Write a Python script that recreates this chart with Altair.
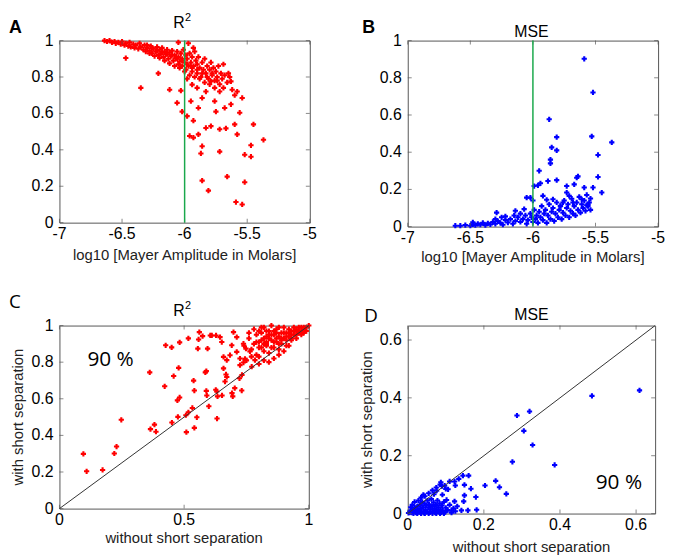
import altair as alt
import pandas as pd

# ---------------- Panel A : R^2 vs log10 Mayer amplitude (red) ----------------
a_x = [-6.64, -6.62, -6.60, -6.58, -6.56, -6.55, -6.53, -6.51, -6.50, -6.48,
       -6.47, -6.45, -6.44, -6.43, -6.41, -6.40, -6.39, -6.37, -6.36, -6.35,
       -6.33, -6.32, -6.31, -6.30, -6.28, -6.27, -6.26, -6.25, -6.23, -6.22,
       -6.21, -6.20, -6.19, -6.18, -6.17, -6.16, -6.15, -6.14, -6.13, -6.12,
       -6.11, -6.10, -6.09, -6.08, -6.07, -6.06, -6.05, -6.05, -6.04, -6.03,
       -6.02, -6.02, -6.01, -6.00, -5.99, -5.99, -5.98, -5.97, -5.96, -5.95,
       -5.94, -5.94, -5.93, -5.92, -5.91, -5.90, -5.90, -5.89, -5.88, -5.87,
       -5.86, -5.85, -5.84, -5.83, -5.82, -5.81, -5.80, -5.79, -5.78, -5.77,
       -5.76, -5.75, -5.74, -5.73, -5.72, -5.71, -5.70, -5.69, -5.68, -5.66,
       -5.64, -5.62, -5.60, -6.05, -5.97, -5.93,
       -6.30, -6.26, -6.22, -6.18, -6.14, -6.10, -6.06, -6.02, -5.98, -5.94,
       -5.90, -5.86, -5.82, -5.78, -5.74, -6.28, -6.24, -6.20, -6.16, -6.12,
       -6.08, -6.04, -6.00, -5.96, -5.92, -5.88, -5.84, -5.80, -5.76, -5.72,
       -6.47, -6.35, -6.21, -6.12, -6.06, -6.03, -6.02, -5.98, -5.95, -5.93,
       -5.96, -5.93, -5.89, -5.86, -5.87, -5.86, -5.81, -5.83, -5.79, -5.72,
       -5.72, -5.67, -5.66, -5.60, -5.58, -5.56, -5.52, -5.52, -5.47, -5.47,
       -5.45, -5.37, -5.59, -5.54, -5.54, -5.58, -5.63, -5.65, -5.69, -5.76,
       -5.75, -5.68, -5.63, -5.79, -5.83, -5.86, -5.89, -5.90, -5.94, -5.98]
a_y = [1.00, 0.995, 1.00, 0.99, 0.995, 0.985, 0.99, 0.98, 0.995, 0.975,
       0.985, 0.97, 0.99, 0.965, 0.98, 0.96, 0.975, 0.955, 0.985, 0.965,
       0.95, 0.975, 0.94, 0.96, 0.945, 0.97, 0.93, 0.955, 0.94, 0.965,
       0.92, 0.95, 0.93, 0.96, 0.91, 0.94, 0.925, 0.95, 0.90, 0.935,
       0.915, 0.945, 0.89, 0.92, 0.905, 0.94, 0.87, 0.91, 0.885, 0.93,
       0.86, 0.90, 0.95, 0.88, 0.92, 0.84, 0.90, 0.86, 0.93, 0.88,
       0.83, 0.91, 0.86, 0.94, 0.89, 0.82, 0.87, 0.91, 0.85, 0.80,
       0.88, 0.84, 0.90, 0.82, 0.86, 0.79, 0.84, 0.88, 0.81, 0.85,
       0.78, 0.83, 0.80, 0.86, 0.76, 0.82, 0.79, 0.74, 0.81, 0.77,
       0.80, 0.73, 0.70, 0.99, 0.985, 0.96,
       0.975, 0.96, 0.945, 0.935, 0.925, 0.92, 0.90, 0.89, 0.87, 0.85,
       0.84, 0.82, 0.80, 0.82, 0.78, 0.93, 0.915, 0.905, 0.89, 0.875,
       0.86, 0.85, 0.83, 0.81, 0.80, 0.79, 0.77, 0.76, 0.74, 0.72,
       0.904, 0.74, 0.82, 0.73, 0.658, 0.725, 0.61, 0.585, 0.667, 0.56,
       0.476, 0.467, 0.485, 0.42, 0.38, 0.231, 0.176, 0.52, 0.53, 0.513,
       0.39, 0.518, 0.253, 0.54, 0.485, 0.604, 0.222, 0.373, 0.362, 0.425,
       0.54, 0.455, 0.113, 0.10, 0.685, 0.72, 0.776, 0.82, 0.87, 0.667,
       0.61, 0.63, 0.65, 0.776, 0.72, 0.685, 0.63, 0.74, 0.758, 0.79]

# ---------------- Panel B : MSE vs log10 Mayer amplitude (blue) ----------------
b_x = [-6.62, -6.58, -6.54, -6.50, -6.48, -6.46, -6.44, -6.42, -6.40, -6.38,
       -6.36, -6.34, -6.32, -6.30, -6.28, -6.26, -6.24, -6.22, -6.20, -6.18,
       -6.16, -6.14, -6.12, -6.10, -6.08, -6.06, -6.05, -6.04, -6.02, -6.01,
       -6.00, -5.99, -5.98, -5.97, -5.96, -5.95, -5.94, -5.93, -5.92, -5.91,
       -5.90, -5.89, -5.88, -5.87, -5.86, -5.85, -5.84, -5.83, -5.82, -5.81,
       -5.80, -5.79, -5.78, -5.77, -5.76, -5.75, -5.74, -5.73, -5.72, -5.71,
       -5.70, -5.69, -5.68, -5.67, -5.66, -5.65, -5.64, -5.63, -5.62, -5.61,
       -5.60, -5.59, -5.58, -5.57, -5.56, -5.55, -5.54, -6.30, -6.25, -6.15,
       -6.10,
       -5.59, -5.52, -5.53, -5.37, -5.48, -5.48, -5.45, -5.87, -5.81, -5.85,
       -5.81, -5.86, -5.86, -5.95, -5.99, -5.96, -5.94, -5.88, -5.81, -5.73,
       -5.65, -5.64, -5.67, -5.59, -5.54, -5.56, -5.52, -6.05, -6.02, -6.00,
       -5.92, -5.89, -5.84, -5.73, -5.71, -5.76, -5.78, -5.68, -5.61, -5.57,
       -6.29, -6.22, -6.14, -6.07, -6.48]
b_y = [0.005, 0.005, 0.008, 0.005, 0.012, 0.008, 0.015, 0.01, 0.02, 0.008,
       0.018, 0.012, 0.025, 0.015, 0.03, 0.02, 0.01, 0.035, 0.022, 0.04,
       0.015, 0.03, 0.05, 0.025, 0.04, 0.06, 0.015, 0.035, 0.07, 0.05,
       0.025, 0.09, 0.04, 0.06, 0.02, 0.08, 0.05, 0.11, 0.035, 0.07,
       0.09, 0.02, 0.06, 0.12, 0.04, 0.08, 0.10, 0.03, 0.07, 0.13,
       0.05, 0.09, 0.11, 0.04, 0.075, 0.14, 0.06, 0.10, 0.12, 0.05,
       0.085, 0.15, 0.07, 0.11, 0.06, 0.13, 0.09, 0.16, 0.075, 0.12,
       0.10, 0.14, 0.085, 0.17, 0.11, 0.13, 0.09, 0.04, 0.05, 0.06,
       0.07,
       0.902, 0.721, 0.485, 0.453, 0.385, 0.267, 0.183, 0.577, 0.481, 0.426,
       0.41, 0.36, 0.34, 0.30, 0.218, 0.222, 0.233, 0.245, 0.25, 0.218,
       0.263, 0.27, 0.227, 0.21, 0.151, 0.12, 0.21, 0.156, 0.156, 0.14,
       0.165, 0.144, 0.147, 0.183, 0.165, 0.13, 0.112, 0.13, 0.147, 0.115,
       0.075, 0.055, 0.085, 0.094, 0.023]

# ---------------- Panel C : R^2 with vs without short separation (red) ----------------
c_x = [0.096, 0.109, 0.173, 0.22, 0.229, 0.248, 0.365, 0.381, 0.387, 0.362,
       0.422, 0.426, 0.45, 0.458, 0.451, 0.478, 0.482, 0.473, 0.482, 0.475,
       0.509, 0.517, 0.507, 0.517, 0.533, 0.538, 0.541, 0.541, 0.551, 0.558,
       0.555, 0.561, 0.574, 0.585, 0.589, 0.594, 0.605, 0.589, 0.591, 0.599,
       0.632, 0.627, 0.631, 0.634, 0.652, 0.664, 0.671, 0.668, 0.658, 0.671,
       0.658, 0.684, 0.691, 0.692, 0.695, 0.703, 0.731, 0.722, 0.732, 0.724,
       0.738, 0.711, 0.724, 0.744, 0.764, 0.771, 0.784, 0.628, 0.611, 0.644,
       0.651, 0.698, 0.711, 0.738, 0.748,
       0.78, 0.79, 0.80, 0.80, 0.81, 0.82, 0.82, 0.83, 0.83, 0.84,
       0.84, 0.85, 0.85, 0.86, 0.86, 0.87, 0.87, 0.88, 0.88, 0.89,
       0.89, 0.90, 0.90, 0.91, 0.91, 0.92, 0.92, 0.93, 0.93, 0.94,
       0.94, 0.95, 0.95, 0.96, 0.96, 0.97, 0.97, 0.98, 0.98, 0.99,
       0.99, 1.00, 0.80, 0.82, 0.84, 0.86, 0.88, 0.90, 0.92, 0.76,
       0.77, 0.79, 0.81, 0.83, 0.85, 0.87, 0.89, 0.91, 0.93, 0.95,
       0.81, 0.86, 0.88, 0.84, 0.80, 0.82, 0.75, 0.77, 0.80, 0.78,
       0.76, 0.74,
       0.83, 0.85, 0.87, 0.89, 0.91, 0.93, 0.95, 0.97, 0.82, 0.84,
       0.86, 0.88, 0.90, 0.92, 0.94, 0.96, 0.98, 0.79, 0.81, 0.83]
c_y = [0.299, 0.204, 0.211, 0.301, 0.339, 0.485, 0.434, 0.459, 0.42, 0.744,
       0.668, 0.892, 0.881, 0.724, 0.47, 0.769, 0.908, 0.591, 0.607, 0.501,
       0.418, 0.93, 0.51, 0.526, 0.55, 0.699, 0.645, 0.441, 0.499, 0.924,
       0.874, 0.964, 0.942, 0.744, 0.751, 0.874, 0.946, 0.643, 0.618, 0.559,
       0.492, 0.649, 0.64, 0.613, 0.618, 0.694, 0.719, 0.733, 0.766, 0.811,
       0.829, 0.838, 0.892, 0.631, 0.613, 0.658, 0.645, 0.712, 0.73, 0.784,
       0.798, 0.856, 0.82, 0.818, 0.859, 0.775, 0.811, 0.946, 0.946, 0.937,
       0.91, 0.964, 0.937, 0.901, 0.874,
       0.90, 0.95, 0.88, 0.97, 0.92, 0.86, 0.99, 0.94, 0.89, 0.97,
       0.85, 0.92, 1.00, 0.88, 0.95, 0.91, 0.98, 0.87, 0.94, 0.96,
       0.90, 0.99, 0.93, 0.89, 0.96, 0.94, 0.98, 0.92, 0.97, 0.95,
       0.99, 0.93, 0.97, 0.96, 0.99, 0.97, 0.95, 0.98, 0.96, 0.99,
       0.97, 1.00, 0.83, 0.81, 0.80, 0.82, 0.84, 0.86, 0.89, 0.93,
       0.87, 0.84, 0.96, 0.91, 0.95, 0.93, 0.93, 0.92, 0.95, 0.95,
       0.99, 0.97, 0.99, 0.93, 0.91, 0.90, 0.81, 0.83, 0.79, 0.98,
       0.96, 0.89,
       0.90, 0.88, 0.96, 0.92, 0.94, 0.93, 0.98, 0.99, 0.93, 0.95,
       0.91, 0.90, 0.96, 0.96, 0.97, 0.97, 0.99, 0.91, 0.88, 0.97]

# ---------------- Panel D : MSE with vs without short separation (blue) ----------------
d_x = [0.609, 0.484, 0.287, 0.32, 0.305, 0.328, 0.275, 0.386, 0.231, 0.241,
       0.259, 0.203, 0.179, 0.181, 0.16, 0.145, 0.134, 0.149, 0.166, 0.149,
       0.147, 0.158, 0.141, 0.115, 0.123, 0.125, 0.11, 0.106, 0.097, 0.087,
       0.076, 0.069, 0.041, 0.091, 0.102, 0.123,
       0.002, 0.005, 0.008, 0.01, 0.012, 0.015, 0.018, 0.02, 0.022, 0.025,
       0.027, 0.03, 0.032, 0.034, 0.036, 0.038, 0.04, 0.042, 0.044, 0.046,
       0.048, 0.05, 0.052, 0.054, 0.056, 0.058, 0.06, 0.062, 0.064, 0.066,
       0.068, 0.07, 0.072, 0.074, 0.076, 0.078, 0.08, 0.082, 0.084, 0.086,
       0.088, 0.09, 0.092, 0.095, 0.098, 0.1, 0.105, 0.11, 0.115, 0.12,
       0.125, 0.13, 0.028, 0.035, 0.045, 0.055, 0.065, 0.075, 0.085, 0.09,
       0.1, 0.012, 0.018, 0.008, 0.015, 0.025, 0.035, 0.045, 0.055, 0.065,
       0.075, 0.085, 0.095]
d_y = [0.426, 0.407, 0.339, 0.353, 0.286, 0.237, 0.179, 0.168, 0.113, 0.091,
       0.068, 0.097, 0.057, 0.013, 0.131, 0.131, 0.12, 0.099, 0.086, 0.063,
       0.042, 0.011, 0.011, 0.01, 0.111, 0.097, 0.111, 0.084, 0.097, 0.108,
       0.079, 0.067, 0.065, 0.065, 0.047, 0.042,
       0.002, 0.004, 0.01, 0.003, 0.015, 0.006, 0.02, 0.01, 0.003, 0.025,
       0.012, 0.005, 0.03, 0.018, 0.008, 0.04, 0.022, 0.002, 0.035, 0.012,
       0.028, 0.006, 0.045, 0.02, 0.032, 0.004, 0.015, 0.05, 0.026, 0.008,
       0.038, 0.018, 0.003, 0.03, 0.012, 0.045, 0.022, 0.006, 0.035, 0.015,
       0.004, 0.028, 0.01, 0.04, 0.005, 0.02, 0.012, 0.03, 0.003, 0.018,
       0.008, 0.025, 0.045, 0.055, 0.06, 0.07, 0.08, 0.09, 0.1, 0.095,
       0.085, 0.03, 0.04, 0.022, 0.001, 0.001, 0.001, 0.001, 0.001, 0.001,
       0.001, 0.001, 0.001]

# ---------------- ticks, labels, annotations ----------------
amp_ticks = [-7, -6.5, -6, -5.5, -5]
unit_ticks = [0, 0.2, 0.4, 0.6, 0.8, 1]
c_x_ticks = [0, 0.5, 1]
d_ticks = [0, 0.2, 0.4, 0.6]
threshold = [-6]
diag_c = [0, 1]
diag_d = [0, 0.65]
pct_text = ["90 %"]
pct_c_pos = [0.112, 0.81]
pct_d_pos = [0.494, 0.105]
letters = ["A", "B", "C", "D"]
amp_title = "log10 [Mayer Amplitude in Molars]"
without_title = "without short separation"
with_title = "with short separation"

RED = "#ff0000"
BLUE = "#0000ff"
GREEN = "#1aa84c"
FRAME = "#555555"
FONT = "Liberation Sans"


def text_layer(txt, px, py, size, weight="normal", font=FONT, align="left",
               baseline="alphabetic", angle=0, color="#000000"):
    return alt.Chart(pd.DataFrame({"t": [txt]})).mark_text(
        font=font, fontSize=size, fontWeight=weight, align=align,
        baseline=baseline, angle=angle, color=color).encode(
        x=alt.value(px), y=alt.value(py), text="t:N")


def panel(xs, ys, color, xdom, ydom, xticks, yticks, w, h,
          xtitle, xt_off, ytitle, yt_off, extra):
    sx = alt.Scale(domain=xdom, nice=False, zero=False)
    sy = alt.Scale(domain=ydom, nice=False, zero=False)

    def X(f):
        return alt.X(f, scale=sx, axis=None)

    def Y(f):
        return alt.Y(f, scale=sy, axis=None)

    pts = alt.Chart(pd.DataFrame({"x": xs, "y": ys})).mark_point(
        shape="cross", filled=True, size=28, color=color, opacity=1
    ).encode(x=X("x:Q"), y=Y("y:Q"))

    xt = pd.DataFrame({"t": xticks, "lab": [str(v) for v in xticks]})
    yt = pd.DataFrame({"t": yticks, "lab": [str(v) for v in yticks]})
    tk = dict(size=4, thickness=1, color=FRAME)
    layers = [pts]
    layers.append(alt.Chart(xt).mark_tick(orient="vertical", **tk).encode(
        x=X("t:Q"), y=alt.value(h - 2)))
    layers.append(alt.Chart(xt).mark_tick(orient="vertical", **tk).encode(
        x=X("t:Q"), y=alt.value(2)))
    layers.append(alt.Chart(yt).mark_tick(orient="horizontal", **tk).encode(
        y=Y("t:Q"), x=alt.value(2)))
    layers.append(alt.Chart(yt).mark_tick(orient="horizontal", **tk).encode(
        y=Y("t:Q"), x=alt.value(w - 2)))
    # tick labels
    layers.append(alt.Chart(xt).mark_text(
        font=FONT, fontSize=16, align="center", baseline="top", color="#000000"
    ).encode(x=X("t:Q"), y=alt.value(h + 4), text="lab:N"))
    layers.append(alt.Chart(yt).mark_text(
        font=FONT, fontSize=16, align="right", baseline="middle", color="#000000"
    ).encode(y=Y("t:Q"), x=alt.value(-6), text="lab:N"))
    # axis titles
    layers.append(text_layer(xtitle, w / 2, h + xt_off, 15, align="center",
                             baseline="middle", color="#222222"))
    if ytitle:
        layers.append(text_layer(ytitle, yt_off, h / 2, 15, align="center",
                                 baseline="middle", angle=270, color="#222222"))
    for kind, spec in extra:
        if kind == "vline":
            layers.append(alt.Chart(pd.DataFrame({"v": spec})).mark_rule(
                color=GREEN, strokeWidth=1.5).encode(x=X("v:Q")))
        elif kind == "diag":
            layers.append(alt.Chart(pd.DataFrame({"a": spec, "b": spec})).mark_line(
                color="#333333", strokeWidth=1).encode(x=X("a:Q"), y=Y("b:Q")))
        elif kind == "pct":
            layers.append(alt.Chart(pd.DataFrame({"t": pct_text, "x": [spec[0]], "y": [spec[1]]})).mark_text(
                font="Open Sans", fontSize=21, align="left", baseline="middle",
                color="#000000").encode(x=X("x:Q"), y=Y("y:Q"), text="t:N"))
        elif kind == "text":
            layers.append(text_layer(*spec[0], **spec[1]))
    return alt.layer(*layers).properties(width=w, height=h)


def r2(px, py):
    return [("text", (("R", px, py, 16), {})),
            ("text", (("2", px + 12, py - 7, 11), {}))]


pA = panel(a_x, a_y, RED, [-7, -5], [0, 1], amp_ticks, unit_ticks, 253, 184,
           amp_title, 33, None, 0,
           [("vline", threshold),
            ("text", ((letters[0], -51, -8, 18), {"weight": "bold"}))] + r2(115, -13))
pB = panel(b_x, b_y, BLUE, [-7, -5], [0, 1], amp_ticks, unit_ticks, 253, 188,
           amp_title, 31, None, 0,
           [("vline", threshold),
            ("text", ((letters[1], -46, -8, 18), {"weight": "bold"})),
            ("text", (("MSE", 125, -4, 16), {"align": "center"}))])
pC = panel(c_x, c_y, RED, [0, 1], [0, 1], c_x_ticks, unit_ticks, 252, 185,
           without_title, 30, with_title, -42,
           [("diag", diag_c), ("pct", pct_c_pos),
            ("text", ((letters[2], -51, -18, 19), {"font": "Open Sans"}))] + r2(115, -10))
pD = panel(d_x, d_y, BLUE, [0, 0.65], [0, 0.65], d_ticks, d_ticks, 250, 190,
           without_title, 34, with_title, -41,
           [("diag", diag_d), ("pct", pct_d_pos),
            ("text", ((letters[3], -44, -4, 19), {"font": "Open Sans"})),
            ("text", (("MSE", 125, -6, 16), {"align": "center"}))])

chart = alt.vconcat(
    alt.hconcat(pA, pB, spacing=44),
    alt.hconcat(pC, pD, spacing=46),
    spacing=26,
).properties(padding=0).configure_view(stroke=FRAME, strokeWidth=1)

chart.save("out.html", embed_options={"renderer": "svg", "actions": False})
